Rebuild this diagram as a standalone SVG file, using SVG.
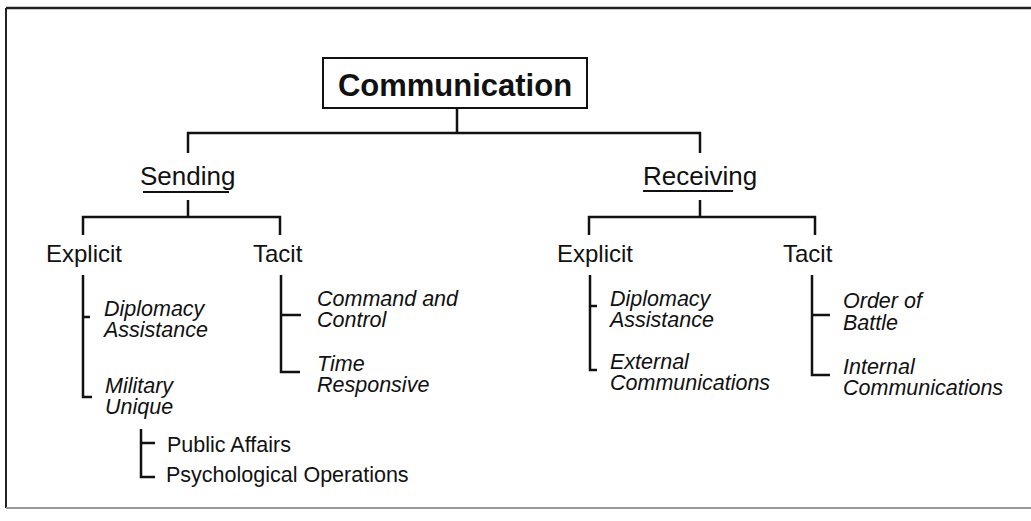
<svg xmlns="http://www.w3.org/2000/svg" width="1031" height="521" viewBox="0 0 1031 521">
<style>
  text { font-family: "Liberation Sans", Arial, sans-serif; fill: #111; }
  .t1 { font-size: 31px; font-weight: bold; }
  .t2 { font-size: 26px; }
  .t3 { font-size: 24px; }
  .t4 { font-size: 21.5px; font-style: italic; }
  .t5 { font-size: 21.5px; }
  .ln { stroke: #111; stroke-width: 2.5; fill: none; }
</style>
<rect width="1031" height="521" fill="#fff"/>
<g id="frame">
  <line x1="6" y1="8" x2="1031" y2="8" stroke="#222" stroke-width="2.5"/>
  <line x1="6" y1="8" x2="6" y2="508" stroke="#222" stroke-width="2"/>
  <line x1="6" y1="508" x2="1031" y2="508" stroke="#999" stroke-width="2"/>
</g>
<g id="connectors" class="ln">
  <path class="ln" d="M457,108 V133 M188,153 V133 H700 V153"/>
  <path class="ln" d="M188,200 V217 M83,235 V217 H280 V235"/>
  <path class="ln" d="M700,200 V217 M589,235 V217 H815 V235"/>
  <path class="ln" d="M83,275 V397 H92 M83,317 H90"/>
  <path class="ln" d="M281,275 V372 H300 M281,315 H301"/>
  <path class="ln" d="M590,275 V370 H597 M590,306 H597"/>
  <path class="ln" d="M812,275 V375 H830 M812,315 H830"/>
  <path class="ln" d="M141,429 V477 H155 M141,443 H155"/>
</g>
<g id="communication">
  <rect x="323" y="58" width="264" height="50" fill="#fff" stroke="#111" stroke-width="2"/>
  <text class="t1" x="455" y="96" text-anchor="middle">Communication</text>
</g>
<g id="sending">
  <text class="t2" x="140" y="185">Sending</text>
  <line x1="143" y1="192" x2="229" y2="192" stroke="#111" stroke-width="2"/>
</g>
<g id="receiving">
  <text class="t2" x="643" y="185">Receiving</text>
  <line x1="643" y1="191" x2="733" y2="191" stroke="#111" stroke-width="2"/>
</g>
<g id="send-explicit"><text class="t3" x="46" y="262">Explicit</text></g>
<g id="send-tacit"><text class="t3" x="253" y="262">Tacit</text></g>
<g id="recv-explicit"><text class="t3" x="557" y="262">Explicit</text></g>
<g id="recv-tacit"><text class="t3" x="783" y="262">Tacit</text></g>
<g id="send-diplomacy"><text class="t4" x="104" y="316">Diplomacy<tspan x="104" dy="21">Assistance</tspan></text></g>
<g id="send-military"><text class="t4" x="105" y="393">Military<tspan x="105" dy="21">Unique</tspan></text></g>
<g id="public-affairs"><text class="t5" x="167" y="452">Public Affairs</text></g>
<g id="psyops"><text class="t5" x="166" y="482">Psychological Operations</text></g>
<g id="command-control"><text class="t4" x="317" y="306">Command and<tspan x="317" dy="21">Control</tspan></text></g>
<g id="time-responsive"><text class="t4" x="317" y="371">Time<tspan x="317" dy="21">Responsive</tspan></text></g>
<g id="recv-diplomacy"><text class="t4" x="610" y="306">Diplomacy<tspan x="610" dy="21">Assistance</tspan></text></g>
<g id="external"><text class="t4" x="610" y="369">External<tspan x="610" dy="21">Communications</tspan></text></g>
<g id="order-battle"><text class="t4" x="843" y="308">Order of<tspan x="843" dy="22">Battle</tspan></text></g>
<g id="internal"><text class="t4" x="843" y="374">Internal<tspan x="843" dy="21">Communications</tspan></text></g>
</svg>
